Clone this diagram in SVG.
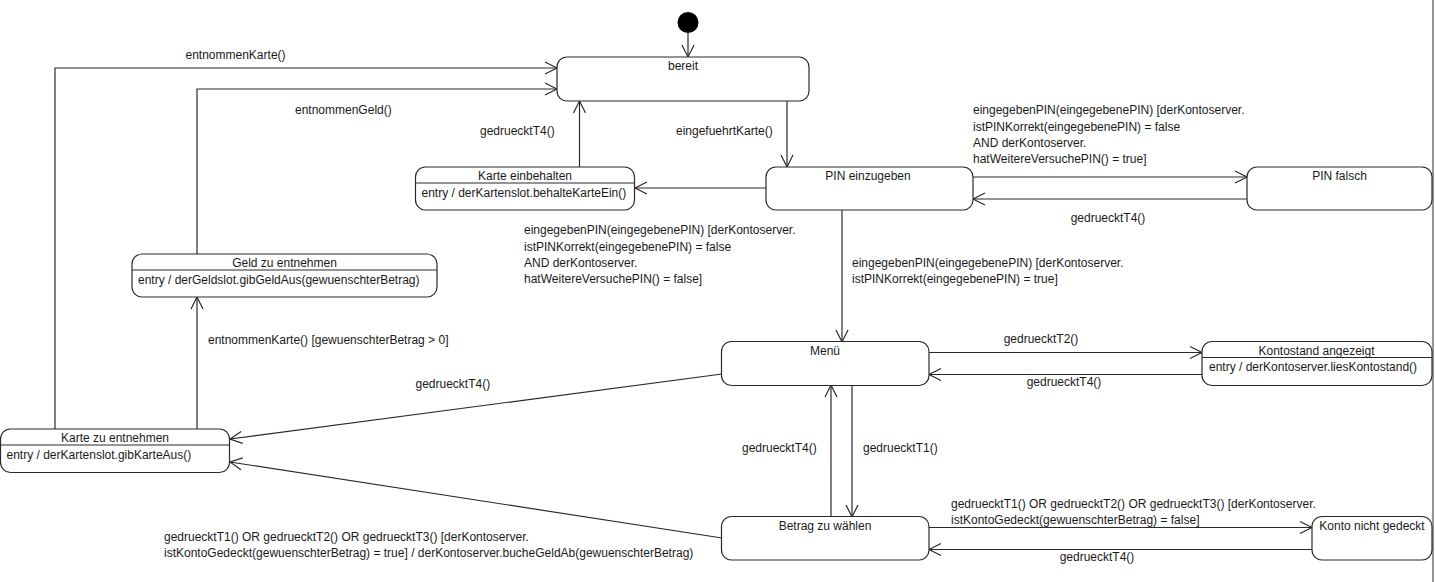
<svg xmlns="http://www.w3.org/2000/svg" width="1435" height="582" viewBox="0 0 1435 582">
<style>
text{font-family:"Liberation Sans",Arial,sans-serif;font-size:12px;fill:#1a1a1a}
.c{text-anchor:middle}
.box{fill:#fff;stroke:#2a2a2a;stroke-width:1.2}
.div{stroke:#2a2a2a;stroke-width:1}
.edge{fill:none;stroke:#2a2a2a;stroke-width:1.2;marker-end:url(#arr)}
</style>
<defs>
<marker id="arr" markerUnits="userSpaceOnUse" markerWidth="14" markerHeight="14" refX="12" refY="6" orient="auto" overflow="visible">
<path d="M0,0 L12,6 L0,12" fill="none" stroke="#2a2a2a" stroke-width="1.2"/>
</marker>
</defs>
<rect width="1435" height="582" fill="#fff"/>
<line x1="1433" y1="0" x2="1433" y2="582" stroke="#2a2a2a" stroke-width="1"/>

<g id="connectors">
<line class="edge" x1="688" y1="33" x2="688" y2="57"/>
<line class="edge" x1="787" y1="101" x2="787" y2="167"/>
<line class="edge" x1="766" y1="188" x2="635" y2="188"/>
<line class="edge" x1="579.5" y1="167" x2="579.5" y2="101"/>
<line class="edge" x1="973" y1="177" x2="1247" y2="177"/>
<line class="edge" x1="1247" y1="199" x2="973" y2="199"/>
<line class="edge" x1="842" y1="210" x2="842" y2="342"/>
<line class="edge" x1="929" y1="352.5" x2="1202" y2="352.5"/>
<line class="edge" x1="1202" y1="374.5" x2="929" y2="374.5"/>
<line class="edge" x1="852" y1="385" x2="852" y2="517"/>
<line class="edge" x1="831" y1="517" x2="831" y2="385"/>
<line class="edge" x1="929" y1="527.5" x2="1312" y2="527.5"/>
<line class="edge" x1="1312" y1="549.5" x2="929" y2="549.5"/>
<line class="edge" x1="722" y1="374" x2="230" y2="439"/>
<line class="edge" x1="722" y1="538" x2="230" y2="462"/>
<line class="edge" x1="197" y1="429" x2="197" y2="297"/>
<polyline class="edge" points="197,254 197,89 557,89"/>
<polyline class="edge" points="55,429 55,68 557,68"/>

<text x="185.5" y="59">entnommenKarte()</text>
<text x="295" y="114">entnommenGeld()</text>
<text x="480" y="135">gedruecktT4()</text>
<text x="676" y="135">eingefuehrtKarte()</text>
<text x="973" y="114">eingegebenPIN(eingegebenePIN) [derKontoserver.</text>
<text x="973" y="130.5">istPINKorrekt(eingegebenePIN) = false</text>
<text x="973" y="147">AND derKontoserver.</text>
<text x="973" y="163">hatWeitereVersuchePIN() = true]</text>
<text class="c" x="1108" y="222">gedruecktT4()</text>
<text x="524" y="234">eingegebenPIN(eingegebenePIN) [derKontoserver.</text>
<text x="524" y="250.5">istPINKorrekt(eingegebenePIN) = false</text>
<text x="524" y="267">AND derKontoserver.</text>
<text x="524" y="283">hatWeitereVersuchePIN() = false]</text>
<text x="852" y="267">eingegebenPIN(eingegebenePIN) [derKontoserver.</text>
<text x="852" y="283">istPINKorrekt(eingegebenePIN) = true]</text>
<text x="208" y="344">entnommenKarte() [gewuenschterBetrag &gt; 0]</text>
<text x="415.5" y="388">gedruecktT4()</text>
<text class="c" x="1041" y="343">gedruecktT2()</text>
<text class="c" x="1064" y="386">gedruecktT4()</text>
<text x="742" y="452">gedruecktT4()</text>
<text x="863" y="452">gedruecktT1()</text>
<text x="951" y="508">gedruecktT1() OR gedruecktT2() OR gedruecktT3() [derKontoserver.</text>
<text x="951" y="524">istKontoGedeckt(gewuenschterBetrag) = false]</text>
<text class="c" x="1097" y="561">gedruecktT4()</text>
<text x="164" y="541">gedruecktT1() OR gedruecktT2() OR gedruecktT3() [derKontoserver.</text>
<text x="164" y="557">istKontoGedeckt(gewuenschterBetrag) = true] / derKontoserver.bucheGeldAb(gewuenschterBetrag)</text>
</g>

<g id="initial">
<circle cx="688" cy="22.5" r="10.5" fill="#000"/>
</g>

<g id="bereit">
<rect class="box" x="557" y="57" width="252" height="44" rx="10"/>
<text class="c" x="683" y="70">bereit</text>
</g>

<g id="karte-einbehalten">
<rect class="box" x="415.5" y="167" width="219" height="43" rx="10"/>
<line class="div" x1="415.5" y1="183" x2="634.5" y2="183"/>
<text class="c" x="525" y="180">Karte einbehalten</text>
<text x="421.5" y="197">entry / derKartenslot.behalteKarteEin()</text>
</g>

<g id="pin-einzugeben">
<rect class="box" x="766" y="167" width="207" height="43" rx="10"/>
<text class="c" x="868" y="180">PIN einzugeben</text>
</g>

<g id="pin-falsch">
<rect class="box" x="1247" y="167" width="185" height="43" rx="10"/>
<text class="c" x="1339.5" y="180">PIN falsch</text>
</g>

<g id="geld-zu-entnehmen">
<rect class="box" x="132" y="254" width="305" height="43" rx="10"/>
<line class="div" x1="132" y1="270" x2="437" y2="270"/>
<text class="c" x="284.5" y="267">Geld zu entnehmen</text>
<text x="138" y="284">entry / derGeldslot.gibGeldAus(gewuenschterBetrag)</text>
</g>

<g id="menue">
<rect class="box" x="721.5" y="341.5" width="207.5" height="44" rx="10"/>
<text class="c" x="825" y="355">Menü</text>
</g>

<g id="kontostand-angezeigt">
<rect class="box" x="1202" y="341.5" width="230" height="44" rx="10"/>
<line class="div" x1="1202" y1="357.5" x2="1432" y2="357.5"/>
<text class="c" x="1316.5" y="355">Kontostand angezeigt</text>
<text x="1209" y="371">entry / derKontoserver.liesKontostand()</text>
</g>

<g id="karte-zu-entnehmen">
<rect class="box" x="0.5" y="429" width="229" height="43.5" rx="10"/>
<line class="div" x1="0.5" y1="445" x2="229.5" y2="445"/>
<text class="c" x="115" y="442">Karte zu entnehmen</text>
<text x="6.5" y="459">entry / derKartenslot.gibKarteAus()</text>
</g>

<g id="betrag-zu-waehlen">
<rect class="box" x="721.5" y="516.5" width="207.5" height="43.5" rx="10"/>
<text class="c" x="825" y="530">Betrag zu wählen</text>
</g>

<g id="konto-nicht-gedeckt">
<rect class="box" x="1312" y="516.5" width="120" height="43.5" rx="10"/>
<text class="c" x="1372" y="530">Konto nicht gedeckt</text>
</g>
</svg>
